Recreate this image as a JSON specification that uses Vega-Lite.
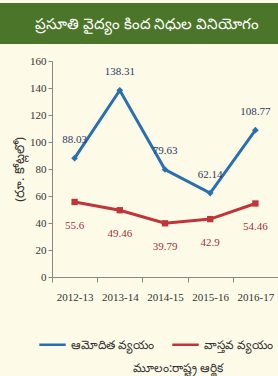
{
  "$schema": "https://vega.github.io/schema/vega-lite/v6.json",
  "background": "#fdfbe7",
  "padding": {"left": 0, "top": 3, "right": 0, "bottom": 0},
  "spacing": 11,
  "bounds": "full",
  "resolve": {"legend": {"color": "independent"}},
  "config": {"view": {"stroke": null}, "font": "Liberation Serif"},
  "datasets": {
    "heading": [{"text": "ప్రసూతి వైద్యం కింద నిధుల వినియోగం"}],
    "source": [{"text": "మూలం:రాష్ట్ర ఆర్థిక"}],
    "expenditure": [
      {"year": "2012-13", "series": "ఆమోదిత వ్యయం", "value": 88.03},
      {"year": "2013-14", "series": "ఆమోదిత వ్యయం", "value": 138.31},
      {"year": "2014-15", "series": "ఆమోదిత వ్యయం", "value": 79.63},
      {"year": "2015-16", "series": "ఆమోదిత వ్యయం", "value": 62.14},
      {"year": "2016-17", "series": "ఆమోదిత వ్యయం", "value": 108.77},
      {"year": "2012-13", "series": "వాస్తవ వ్యయం", "value": 55.6},
      {"year": "2013-14", "series": "వాస్తవ వ్యయం", "value": 49.46},
      {"year": "2014-15", "series": "వాస్తవ వ్యయం", "value": 39.79},
      {"year": "2015-16", "series": "వాస్తవ వ్యయం", "value": 42.9},
      {"year": "2016-17", "series": "వాస్తవ వ్యయం", "value": 54.46}
    ]
  },
  "vconcat": [
    {
      "width": 278,
      "height": 41,
      "view": {"fill": "#4b7629", "stroke": null},
      "data": {"name": "heading"},
      "mark": {"type": "text", "color": "white", "fontSize": 15, "font": "Noto Sans", "baseline": "middle", "align": "center", "dx": 8},
      "encoding": {"text": {"field": "text", "type": "nominal"}}
    },
    {
      "width": 278,
      "height": 216,
      "data": {"name": "expenditure"},
      "encoding": {
        "x": {"field": "year", "type": "nominal", "sort": null,
          "scale": {"range": [52, 278]},
          "axis": {"title": null, "labelAngle": 0, "labelFont": "Liberation Serif", "labelFontSize": 11, "labelColor": "#333333", "domainColor": "#888888", "tickColor": "#888888", "tickBand": "extent", "tickSize": 5, "labelPadding": 9, "grid": false}},
        "y": {"field": "value", "type": "quantitative", "scale": {"domain": [0, 160]},
          "axis": {"offset": -52, "title": "(రూ. కోట్లలో)", "titleFont": "Noto Sans", "titleFontSize": 13, "titleFontWeight": "normal", "titleColor": "#333333", "titlePadding": 3, "values": [0, 20, 40, 60, 80, 100, 120, 140, 160], "labelFont": "Liberation Serif", "labelFontSize": 11, "labelColor": "#333333", "domainColor": "#888888", "tickColor": "#888888", "tickSize": 4, "grid": false}},
        "color": {"field": "series", "type": "nominal", "sort": null,
          "scale": {"domain": ["ఆమోదిత వ్యయం", "వాస్తవ వ్యయం"], "range": ["#2a70b0", "#c0353a"]},
          "legend": {"title": null, "orient": "none", "legendX": 38, "legendY": 269, "direction": "horizontal", "symbolType": "stroke", "symbolStrokeWidth": 2.5, "symbolSize": 700, "labelFont": "Noto Sans", "labelFontSize": 12, "labelColor": "#333333", "columnPadding": 12}}
      },
      "layer": [
        {"mark": {"type": "line", "strokeWidth": 3}},
        {"transform": [{"filter": "datum.series === 'ఆమోదిత వ్యయం'"}],
          "mark": {"type": "point", "filled": true, "opacity": 1, "size": 45, "shape": "diamond"}},
        {"transform": [{"filter": "datum.series === 'వాస్తవ వ్యయం'"}],
          "mark": {"type": "point", "filled": true, "opacity": 1, "size": 40, "shape": "square"}},
        {"transform": [{"filter": "datum.series === 'ఆమోదిత వ్యయం'"}],
          "mark": {"type": "text", "dy": -18, "fontSize": 11, "font": "Liberation Serif"},
          "encoding": {"text": {"field": "value", "type": "nominal"}, "color": {"value": "#2d3768"}}},
        {"transform": [{"filter": "datum.series === 'వాస్తవ వ్యయం'"}],
          "mark": {"type": "text", "dy": 24, "fontSize": 11, "font": "Liberation Serif"},
          "encoding": {"text": {"field": "value", "type": "nominal"}, "color": {"value": "#a3303c"}}}
      ]
    },
    {
      "width": 278,
      "height": 8,
      "data": {"name": "source"},
      "mark": {"type": "text", "color": "#333333", "fontSize": 12, "font": "Noto Sans", "baseline": "middle", "align": "left", "dx": -6, "dy": -10},
      "encoding": {"text": {"field": "text", "type": "nominal"}}
    }
  ]
}
